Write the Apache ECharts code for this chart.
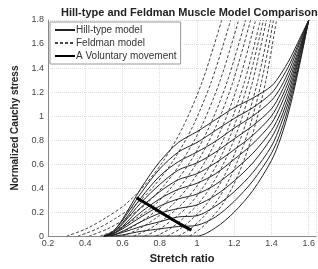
<!DOCTYPE html>
<html>
<head>
<meta charset="utf-8">
<script src="https://cdn.jsdelivr.net/npm/echarts@6/dist/echarts.min.js"></script>
<style>
  html, body { margin: 0; padding: 0; background: #fff; }
  #chart { width: 318px; height: 269px; }
</style>
</head>
<body>
<div id="chart"></div>
<script>
// stretch ratio grid for the Hill-type curves
const hillX = [0.5, 0.55, 0.6, 0.7, 0.8, 0.9, 1.0, 1.1, 1.2, 1.3, 1.4, 1.45, 1.5, 1.55, 1.6];
// one row per activation level, low to high
const hillY = [
  [0, 0, 0, 0, 0, 0, 0, 0.07, 0.2, 0.38, 0.63, 0.82, 1.08, 1.42, 1.8],
  [0, 0, 0.01, 0.04, 0.06, 0.08, 0.09, 0.16, 0.29, 0.46, 0.69, 0.87, 1.12, 1.44, 1.8],
  [0, 0.01, 0.03, 0.08, 0.12, 0.16, 0.17, 0.25, 0.37, 0.53, 0.75, 0.93, 1.16, 1.46, 1.8],
  [0, 0.01, 0.04, 0.12, 0.19, 0.23, 0.26, 0.34, 0.46, 0.61, 0.82, 0.98, 1.2, 1.49, 1.8],
  [0, 0.02, 0.06, 0.16, 0.25, 0.31, 0.35, 0.43, 0.55, 0.69, 0.88, 1.03, 1.24, 1.51, 1.8],
  [0, 0.02, 0.07, 0.2, 0.31, 0.39, 0.44, 0.52, 0.64, 0.77, 0.94, 1.09, 1.28, 1.53, 1.8],
  [0, 0.02, 0.08, 0.24, 0.37, 0.47, 0.52, 0.61, 0.72, 0.84, 1.0, 1.14, 1.32, 1.55, 1.8],
  [0, 0.03, 0.1, 0.28, 0.43, 0.55, 0.61, 0.7, 0.81, 0.92, 1.06, 1.19, 1.36, 1.57, 1.8],
  [0, 0.03, 0.11, 0.32, 0.5, 0.62, 0.7, 0.79, 0.9, 1.0, 1.13, 1.24, 1.4, 1.6, 1.8],
  [0, 0.04, 0.13, 0.36, 0.56, 0.7, 0.78, 0.88, 0.98, 1.07, 1.19, 1.3, 1.44, 1.62, 1.8],
  [0, 0.04, 0.14, 0.4, 0.62, 0.78, 0.87, 0.97, 1.07, 1.15, 1.25, 1.35, 1.48, 1.64, 1.8]
];
// Feldman model curves, [stretch, stress] points
const feldman = [
  [[0.3, 0], [0.404, 0.06], [0.508, 0.15], [0.612, 0.26], [0.717, 0.42], [0.821, 0.63], [0.925, 0.91], [1.029, 1.29], [1.133, 1.8]],
  [[0.36, 0], [0.463, 0.06], [0.565, 0.15], [0.668, 0.26], [0.771, 0.42], [0.873, 0.63], [0.976, 0.91], [1.078, 1.29], [1.181, 1.8]],
  [[0.42, 0], [0.52, 0.06], [0.621, 0.15], [0.721, 0.26], [0.822, 0.42], [0.922, 0.63], [1.023, 0.91], [1.123, 1.29], [1.224, 1.8]],
  [[0.48, 0], [0.578, 0.06], [0.675, 0.15], [0.773, 0.26], [0.87, 0.42], [0.968, 0.63], [1.066, 0.91], [1.163, 1.29], [1.261, 1.8]],
  [[0.54, 0], [0.633, 0.06], [0.727, 0.15], [0.82, 0.26], [0.914, 0.42], [1.007, 0.63], [1.101, 0.91], [1.194, 1.29], [1.288, 1.8]],
  [[0.6, 0], [0.689, 0.06], [0.779, 0.15], [0.868, 0.26], [0.958, 0.42], [1.047, 0.63], [1.136, 0.91], [1.226, 1.29], [1.315, 1.8]],
  [[0.66, 0], [0.745, 0.06], [0.83, 0.15], [0.915, 0.26], [1.001, 0.42], [1.086, 0.63], [1.171, 0.91], [1.256, 1.29], [1.341, 1.8]],
  [[0.72, 0], [0.8, 0.06], [0.879, 0.15], [0.959, 0.26], [1.039, 0.42], [1.118, 0.63], [1.198, 0.91], [1.277, 1.29], [1.357, 1.8]],
  [[0.78, 0], [0.854, 0.06], [0.928, 0.15], [1.002, 0.26], [1.077, 0.42], [1.151, 0.63], [1.225, 0.91], [1.299, 1.29], [1.373, 1.8]],
  [[0.84, 0], [0.909, 0.06], [0.979, 0.15], [1.048, 0.26], [1.118, 0.42], [1.187, 0.63], [1.256, 0.91], [1.326, 1.29], [1.395, 1.8]],
  [[0.9, 0], [0.964, 0.06], [1.028, 0.15], [1.092, 0.26], [1.156, 0.42], [1.219, 0.63], [1.283, 0.91], [1.347, 1.29], [1.411, 1.8]],
  [[0.96, 0], [1.018, 0.06], [1.077, 0.15], [1.135, 0.26], [1.194, 0.42], [1.252, 0.63], [1.31, 0.91], [1.369, 1.29], [1.427, 1.8]]
];
const voluntary = [[0.675, 0.32], [0.75, 0.25], [0.835, 0.17], [0.91, 0.1], [0.97, 0.05]];

const font = 'Liberation Sans, Arial, sans-serif';
const chart = echarts.init(document.getElementById('chart'));

var series = [];
feldman.forEach(function (pts) {
  series.push({
    name: 'Feldman model',
    type: 'line',
    data: pts,
    symbol: 'none',
    smooth: 0.3,
    itemStyle: { color: '#444' },
    lineStyle: { color: '#444', width: 1, type: [3, 2] },
    silent: true
  });
});
hillY.forEach(function (ys) {
  series.push({
    name: 'Hill-type model',
    type: 'line',
    data: ys.map(function (y, i) { return [hillX[i], y]; }),
    symbol: 'none',
    smooth: 0.3,
    itemStyle: { color: '#222' },
    lineStyle: { color: '#222', width: 1 },
    silent: true
  });
});
series.push({
  name: 'A Voluntary movement',
  type: 'line',
  data: voluntary,
  symbol: 'none',
  smooth: true,
  itemStyle: { color: '#000' },
  lineStyle: { color: '#000', width: 3 },
  z: 5
});

chart.setOption({
  animation: false,
  title: {
    text: 'Hill-type and Feldman Muscle Model Comparison',
    left: 56,
    top: 2,
    textStyle: { fontFamily: font, fontSize: 11, fontWeight: 'bold', color: '#222' }
  },
  legend: {
    data: ['Hill-type model', 'Feldman model', 'A Voluntary movement'],
    orient: 'vertical',
    left: 50,
    top: 22,
    padding: [3, 4, 3, 4],
    itemGap: 3,
    itemWidth: 20,
    itemHeight: 10,
    itemStyle: { opacity: 0 },
    backgroundColor: '#fff',
    borderColor: '#999',
    borderWidth: 1,
    textStyle: { fontFamily: font, fontSize: 10, color: '#333', padding: [0, 0, 0, -4] }
  },
  grid: { left: 48, right: 0, top: 20, bottom: 28 },
  xAxis: {
    type: 'value',
    min: 0.2,
    max: 1.64,
    interval: 0.2,
    name: 'Stretch ratio',
    nameLocation: 'middle',
    nameGap: 15,
    nameTextStyle: { fontFamily: font, fontSize: 11, fontWeight: 'bold', color: '#222' },
    axisLine: { lineStyle: { color: '#888' } },
    axisTick: { show: false },
    axisLabel: { fontFamily: font, fontSize: 9, color: '#444', margin: 3, showMaxLabel: false },
    splitLine: { lineStyle: { color: '#ddd', type: 'dotted' } }
  },
  yAxis: {
    type: 'value',
    min: 0,
    max: 1.8,
    interval: 0.2,
    name: 'Normalized Cauchy stress',
    nameLocation: 'middle',
    nameGap: 26,
    nameTextStyle: { fontFamily: font, fontSize: 10, fontWeight: 'bold', color: '#222' },
    axisLine: { show: true, lineStyle: { color: '#888' } },
    axisTick: { show: false },
    axisLabel: { fontFamily: font, fontSize: 9, color: '#444', margin: 4 },
    splitLine: { lineStyle: { color: '#ddd', type: 'dotted' } }
  },
  series: series
});
</script>
</body>
</html>
